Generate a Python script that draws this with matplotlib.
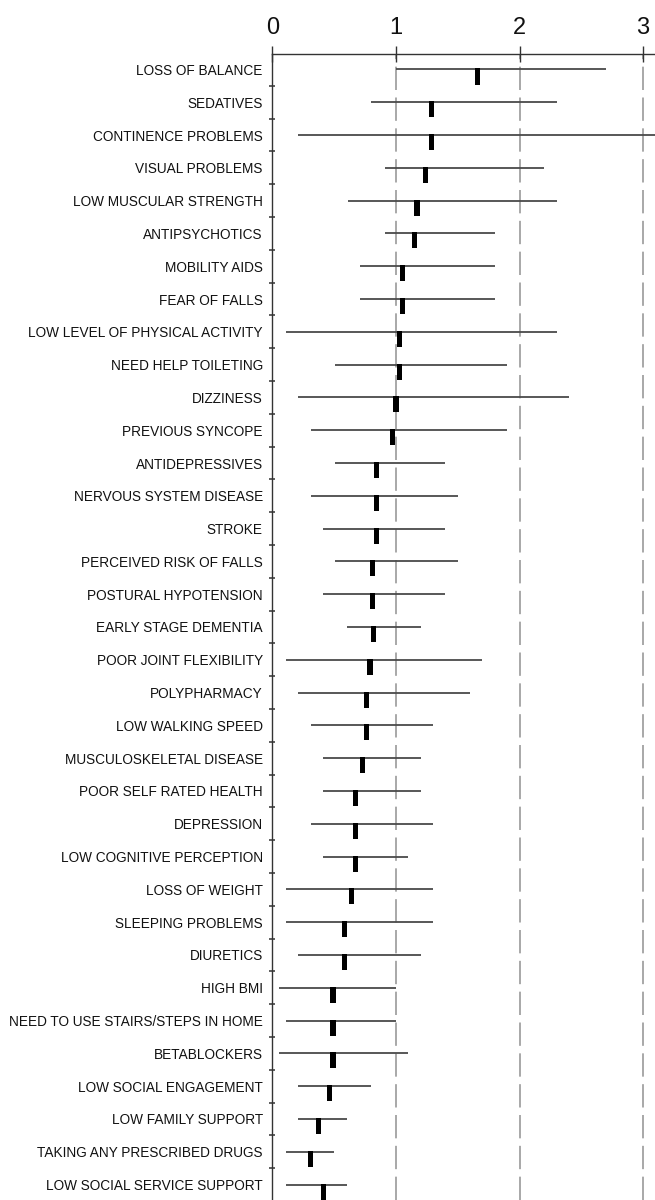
import matplotlib.pyplot as plt
import numpy as np

plt.rcParams['font.family'] = ['Liberation Sans', 'DejaVu Sans']

# risk factors, top to bottom
factors = [
    'LOSS OF BALANCE', 'SEDATIVES', 'CONTINENCE PROBLEMS', 'VISUAL PROBLEMS',
    'LOW MUSCULAR STRENGTH', 'ANTIPSYCHOTICS', 'MOBILITY AIDS', 'FEAR OF FALLS',
    'LOW LEVEL OF PHYSICAL ACTIVITY', 'NEED HELP TOILETING', 'DIZZINESS',
    'PREVIOUS SYNCOPE', 'ANTIDEPRESSIVES', 'NERVOUS SYSTEM DISEASE', 'STROKE',
    'PERCEIVED RISK OF FALLS', 'POSTURAL HYPOTENSION', 'EARLY STAGE DEMENTIA',
    'POOR JOINT FLEXIBILITY', 'POLYPHARMACY', 'LOW WALKING SPEED',
    'MUSCULOSKELETAL DISEASE', 'POOR SELF RATED HEALTH', 'DEPRESSION',
    'LOW COGNITIVE PERCEPTION', 'LOSS OF WEIGHT', 'SLEEPING PROBLEMS',
    'DIURETICS', 'HIGH BMI', 'NEED TO USE STAIRS/STEPS IN HOME', 'BETABLOCKERS',
    'LOW SOCIAL ENGAGEMENT', 'LOW FAMILY SUPPORT', 'TAKING ANY PRESCRIBED DRUGS',
    'LOW SOCIAL SERVICE SUPPORT',
]

# point estimates and confidence limits
estimate = [1.66, 1.29, 1.29, 1.24, 1.17, 1.15, 1.05, 1.05, 1.03, 1.03, 1.00,
            0.97, 0.84, 0.84, 0.84, 0.81, 0.81, 0.82, 0.79, 0.76, 0.76, 0.73,
            0.67, 0.67, 0.67, 0.64, 0.58, 0.58, 0.49, 0.49, 0.49, 0.46, 0.37,
            0.31, 0.41]
lower = [1.00, 0.80, 0.21, 0.91, 0.61, 0.91, 0.71, 0.71, 0.11, 0.51, 0.21,
         0.31, 0.51, 0.31, 0.41, 0.51, 0.41, 0.60, 0.11, 0.21, 0.31, 0.41,
         0.41, 0.31, 0.41, 0.11, 0.11, 0.21, 0.05, 0.11, 0.05, 0.21, 0.21,
         0.11, 0.11]
upper = [2.70, 2.30, 3.40, 2.20, 2.30, 1.80, 1.80, 1.80, 2.30, 1.90, 2.40,
         1.90, 1.40, 1.50, 1.40, 1.50, 1.40, 1.20, 1.70, 1.60, 1.30, 1.20,
         1.20, 1.30, 1.10, 1.30, 1.30, 1.20, 1.00, 1.00, 1.10, 0.80, 0.60,
         0.50, 0.60]

rows = np.arange(1, len(factors) + 1)

fig = plt.figure(figsize=(6.55, 12), dpi=100)
ax = fig.add_axes([0.416, 0.0, 0.584, 0.955])

# reference lines
for xv in [1, 2, 3]:
    ax.axvline(xv, color='#9a9a9a', lw=1.2, dashes=(14, 4.5), zorder=1)

# confidence intervals and estimate markers
ax.hlines(rows, lower, upper, color='#4a4a4a', lw=1.3, zorder=2)
ax.bar(estimate, 0.49, width=0.042, bottom=rows - 0.03, color='black', zorder=3)

ax.set_xlim(0, 3.097)
ax.set_ylim(35.47, 0.53)

ax.xaxis.tick_top()
ax.set_xticks([0, 1, 2, 3])
ax.tick_params(axis='x', direction='inout', length=11, width=1, color='#333333',
               labelsize=17, pad=5, labelcolor='#111111')

ax.set_yticks(rows[:-1] + 0.5)
ax.set_yticklabels([])
ax.tick_params(axis='y', which='major', direction='inout', length=4.5, width=1.1,
               color='#333333')
ax.set_yticks(rows, labels=factors, minor=True)
ax.tick_params(axis='y', which='minor', length=0, pad=7, labelsize=9.8,
               labelcolor='#111111')

for side in ['right', 'bottom']:
    ax.spines[side].set_visible(False)
for side in ['left', 'top']:
    ax.spines[side].set_color('#333333')
    ax.spines[side].set_linewidth(1)

fig.savefig('out.png', dpi=100)
